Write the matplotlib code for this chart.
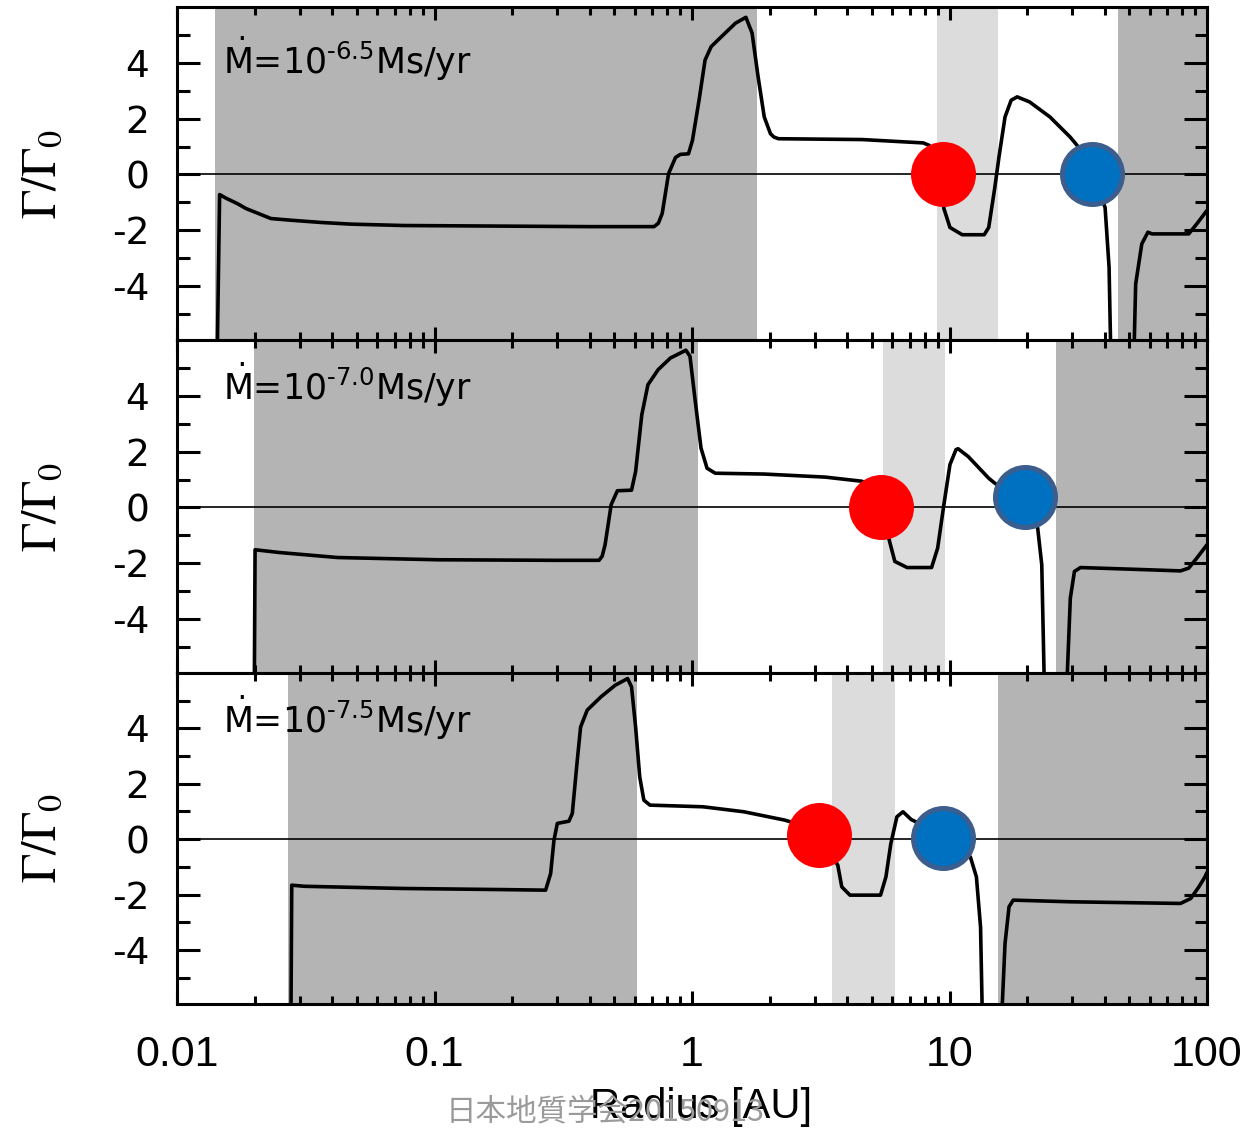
import matplotlib
matplotlib.use('Agg')
import matplotlib.pyplot as plt
import numpy as np

plt.rcParams['font.family'] = ['DejaVu Sans']
plt.rcParams['mathtext.fontset'] = 'dejavusans'

# ---------------- data ----------------
labels = ['10$^{\\text{-6.5}}$', '10$^{\\text{-7.0}}$', '10$^{\\text{-7.5}}$']

r1 = [0.01430, 0.01464, 0.01549, 0.0172, 0.01852, 0.02316, 0.02768, 0.0362, 0.04733, 0.0760,
      0.404, 0.712, 0.74, 0.766, 0.811,
      0.863, 0.902, 0.969, 1.004, 1.065, 1.124, 1.187, 1.302, 1.475, 1.619,
      1.711, 1.806, 1.908, 2.017, 2.08, 2.166, 4.586, 7.91, 8.35, 9.0, 9.3,
      9.51, 10.04, 11.21, 13.64, 14.20, 15.00, 15.56, 16.43, 17.36, 18.32,
      20.45, 24.55, 29.41, 31.70, 35.7, 40.20, 41.66, 42.41, 51.87, 52.84,
      55.81, 58.94, 61.18, 81.88, 84.92, 91.29, 100.0]
g1 = [-7.0, -0.72, -0.85, -1.05, -1.22, -1.58, -1.64, -1.72, -1.78, -1.83,
      -1.87, -1.87, -1.75, -1.40, 0.03,
      0.61, 0.72, 0.74, 1.22, 2.66, 4.10, 4.58, 4.94, 5.42, 5.63,
      5.07, 3.50, 2.06, 1.46, 1.34, 1.28, 1.25, 1.13, 1.04, 0.60, -0.20,
      -1.22, -1.90, -2.16, -2.16, -1.90, -0.46, 0.62, 2.06, 2.66, 2.78,
      2.60, 2.06, 1.34, 0.98, 0.0, -1.18, -3.33, -7.0, -7.0, -3.93,
      -2.49, -2.07, -2.13, -2.13, -2.13, -1.77, -1.29]

r2 = [0.01995, 0.0201, 0.025, 0.04203, 0.1027, 0.2903, 0.4353, 0.448, 0.4597, 0.4854, 0.5131, 0.5823,
      0.6040, 0.6383, 0.6743, 0.7386, 0.8244, 0.9469, 0.9822, 1.026, 1.084, 1.144,
      1.231, 1.908, 3.296, 4.582, 5.0, 5.40, 5.806, 6.133, 6.844, 8.52,
      8.995, 9.51, 10.04, 10.60, 10.80, 11.82, 14.20, 15.00, 19.6, 22.00,
      22.82, 23.42, 28.38, 29.46, 30.56, 32.27, 50.94, 78.9, 84.92, 91.29,
      100.0]
g2 = [-7.0, -1.52, -1.62, -1.80, -1.88, -1.90, -1.90, -1.75, -1.34, 0.10, 0.60, 0.62,
      1.29, 3.33, 4.41, 4.95, 5.37, 5.65, 5.43, 3.93, 2.13, 1.41,
      1.23, 1.20, 1.09, 0.94, 0.60, 0.0, -1.10, -1.94, -2.16, -2.16,
      -1.46, 0.10, 1.54, 2.08, 2.11, 1.83, 1.05, 0.87, 0.25, -0.74,
      -2.06, -7.0, -7.0, -3.26, -2.30, -2.16, -2.22, -2.28, -2.18, -1.82,
      -1.34]

r3 = [0.02768, 0.0279, 0.03118, 0.0762, 0.1861, 0.2701, 0.2825, 0.2910, 0.2999, 0.3327,
      0.3429, 0.3585, 0.3693, 0.3918, 0.4431, 0.5035, 0.5622, 0.5823, 0.6040, 0.6266,
      0.6501, 0.6865, 1.103, 1.590, 2.289, 2.8, 3.2, 3.683, 3.816, 4.106,
      5.397, 5.664, 5.918, 6.248, 6.598, 7.098, 8.3, 9.4, 10.8, 12.05,
      12.72, 13.20, 13.45, 15.85, 16.43, 17.03, 17.68, 29.46, 78.9, 86.47,
      93.0, 98.2, 100.0]
g3 = [-7.0, -1.66, -1.70, -1.78, -1.82, -1.84, -1.24, -0.04, 0.57, 0.65,
      0.93, 2.85, 4.05, 4.66, 5.14, 5.56, 5.80, 5.50, 4.05, 2.25,
      1.41, 1.23, 1.17, 0.99, 0.69, 0.45, 0.0, -0.94, -1.72, -2.02,
      -2.02, -1.36, -0.16, 0.81, 0.99, 0.71, 0.40, 0.05, -0.30, -0.64,
      -1.36, -3.17, -7.0, -7.0, -3.77, -2.44, -2.20, -2.26, -2.32, -2.14,
      -1.72, -1.36, -1.20]

radii = [r1, r2, r3]
torques = [g1, g2, g3]

# shaded zones: (inner dark), (light), (outer dark)
dark_inner = [(0.01403, 1.79), (0.01984, 1.056), (0.0271, 0.609)]
light_band = [(8.96, 15.45), (5.53, 9.57), (3.51, 6.13)]
dark_outer = [(45.2, 100.0), (26.0, 100.0), (15.45, 100.0)]

red_x = [9.43, 5.40, 3.12]
red_y = [0.0, 0.0, 0.14]
blue_x = [35.7, 19.6, 9.4]
blue_y = [0.0, 0.37, 0.05]

xticks = [0.01, 0.1, 1, 10, 100]
xticklabels = ['0.01', '0.1', '1', '10', '100']
yticks = [-4, -2, 0, 2, 4]
yticklabels = ['-4', '-2', '0', '2', '4']
yminor = [-5, -3, -1, 1, 3, 5]

# ---------------- figure ----------------
W, H = 1258, 1128
fig = plt.figure(figsize=(W / 100, H / 100), dpi=100)

left = 177 / W
width = (1207 - 177) / W
edges = [7, 340.5, 673, 1004]
dark = '#b4b4b4'
light = '#dcdcdc'
minor_x = [m * 10.0 ** e for e in range(-2, 2) for m in range(2, 10)]
text_y = [0.798, 0.822, 0.819]

axes = []
for i in range(3):
    top_px, bot_px = edges[i], edges[i + 1]
    ax = fig.add_axes([left, 1 - bot_px / H, width, (bot_px - top_px) / H])
    axes.append(ax)
    ax.set_xscale('log')
    ax.set_xlim(0.01, 100)
    ax.set_ylim(-5.95, 6.0)

    ax.axvspan(*dark_inner[i], color=dark, lw=0, zorder=0)
    ax.axvspan(*light_band[i], color=light, lw=0, zorder=0)
    ax.axvspan(*dark_outer[i], color=dark, lw=0, zorder=0)

    ax.axhline(0, color='black', lw=1.2, zorder=2)
    ax.plot(radii[i], torques[i], color='black', lw=2.6, zorder=3,
            solid_joinstyle='round', solid_capstyle='round')

    ax.scatter([red_x[i]], [red_y[i]], s=2190, color='#ff0000', lw=0, zorder=5)
    ax.scatter([blue_x[i]], [blue_y[i]], s=1866, facecolor='#0070c0',
               edgecolor='#3b5e8e', lw=3.6, zorder=5)

    ax.text(0.045, text_y[i], r'$\dot{\mathrm{M}}$=' + labels[i] + 'Ms/yr',
            transform=ax.transAxes, fontsize=25, va='baseline', ha='left',
            family='DejaVu Sans', zorder=6)

    # ticks
    ax.set_xticks(xticks)
    ax.set_xticks(minor_x, minor=True)
    ax.set_yticks(yticks)
    ax.set_yticks(yminor, minor=True)
    ax.set_yticklabels(yticklabels, fontsize=27, family='DejaVu Sans')
    if i == 2:
        ax.set_xticklabels(xticklabels, fontsize=31, family='Liberation Sans')
    else:
        ax.set_xticklabels([])
    ax.xaxis.set_minor_formatter(matplotlib.ticker.NullFormatter())

    ax.tick_params(which='both', direction='in', top=True, right=True,
                   width=2.2, color='black')
    ax.tick_params(axis='x', which='major', length=9.5, pad=22)
    ax.tick_params(axis='x', which='minor', length=5.5)
    ax.tick_params(axis='y', which='major', length=16.5, pad=20)
    ax.tick_params(axis='y', which='minor', length=9)
    for sp in ax.spines.values():
        sp.set_linewidth(2.2)
        sp.set_zorder(7)

    yc = 1 - (top_px + bot_px) / 2 / H
    fig.text(41 / W, yc, r'$\Gamma/\Gamma_0$', fontsize=35, rotation=90,
             ha='center', va='center', math_fontfamily='stix')

fig.text(701 / W, 1 - 1118 / H, 'Radius [AU]', fontsize=30,
         family='Liberation Sans', ha='center', va='baseline')
fig.text(605 / W, 1 - 1112 / H, '日本地質学会20150913', fontsize=22,
         color='#9a9a9a', family=['Noto Sans CJK JP', 'DejaVu Sans'],
         ha='center', va='center')

fig.savefig('out.png', dpi=100)
